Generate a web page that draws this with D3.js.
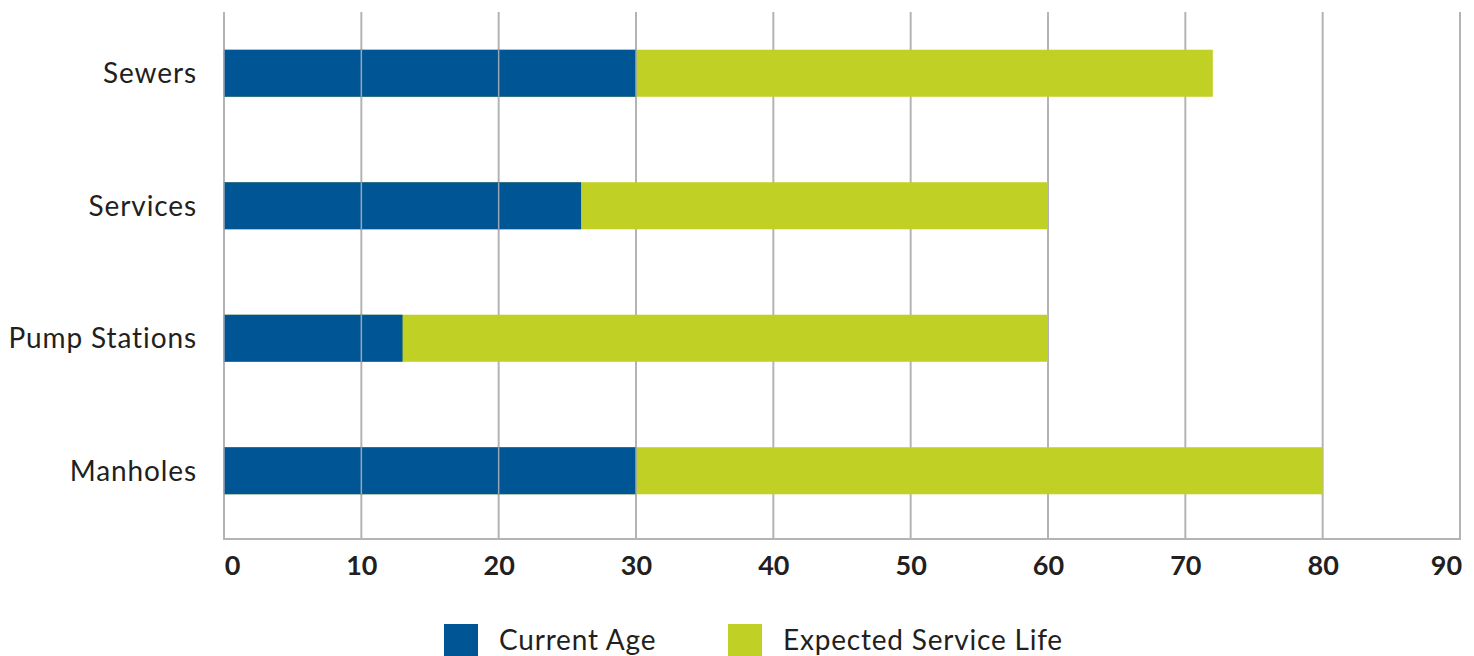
<!DOCTYPE html>
<html><head><meta charset="utf-8">
<script src="https://cdn.jsdelivr.net/npm/d3@7"></script>
<style>body{margin:0;background:#fff}svg{display:block}</style>
</head><body><svg id="c" width="1474" height="656"></svg>
<script>
const categories = ["Sewers", "Services", "Pump Stations", "Manholes"];
const currentAge = [30, 26, 13, 30];
const expectedLife = [72, 60, 60, 80];
const xTicks = [0, 10, 20, 30, 40, 50, 60, 70, 80, 90];
const seriesNames = ["Current Age", "Expected Service Life"];
const colors = ["#005594", "#c1d024"];

const svg = d3.select("#c");
const x = d3.scaleLinear().domain([0, 90]).range([224, 1460]);
const y = d3.scaleBand().domain(categories).range([7, 537]).paddingInner(0.645).paddingOuter(0.3225);
const plotTop = 12, plotBase = 539;
const font = "Lato, 'Open Sans', sans-serif";
const txt = "#231f20";

// gridlines
svg.append("g").selectAll("line").data(xTicks).join("line")
  .attr("x1", d => x(d)).attr("x2", d => x(d)).attr("y1", plotTop).attr("y2", plotBase)
  .attr("stroke", "#b4b4b6").attr("stroke-width", 2);
// baseline
svg.append("line").attr("x1", x(0) - 1).attr("x2", x(90) + 1).attr("y1", plotBase).attr("y2", plotBase)
  .attr("stroke", "#b4b4b6").attr("stroke-width", 2);

const rows = categories.map((c, i) => ({c, age: currentAge[i], life: expectedLife[i]}));
// expected service life (full)
svg.append("g").selectAll("rect").data(rows).join("rect")
  .attr("x", x(0)).attr("y", d => y(d.c)).attr("height", y.bandwidth())
  .attr("width", d => x(d.life) - x(0)).attr("fill", colors[1]);
// current age
svg.append("g").selectAll("rect").data(rows).join("rect")
  .attr("x", x(0)).attr("y", d => y(d.c)).attr("height", y.bandwidth())
  .attr("width", d => x(d.age) - x(0)).attr("fill", colors[0]);
// gridlines visible over blue segments
rows.forEach(r => {
  svg.append("g").selectAll("line").data(xTicks.filter(t => t <= r.age)).join("line")
    .attr("x1", d => x(d)).attr("x2", d => x(d)).attr("y1", y(r.c)).attr("y2", y(r.c) + y.bandwidth())
    .attr("stroke", "#9aa6b4").attr("stroke-width", 1.5);
});

// x tick labels
const xAxis = d3.axisBottom(x).tickValues(xTicks).tickSize(0).tickPadding(0);
const gx = svg.append("g").attr("transform", `translate(0,${plotBase})`).call(xAxis);
gx.select(".domain").remove();
gx.selectAll("text").attr("y", 36).attr("dy", null).attr("font-family", font).attr("font-weight", 700)
  .attr("font-size", 27).attr("fill", txt)
  .attr("x", d => d === 0 ? 8 : d === 90 ? -14 : 0);

// y labels
const yAxis = d3.axisLeft(y).tickSize(0).tickPadding(0);
const gy = svg.append("g").attr("transform", `translate(197,0)`).call(yAxis);
gy.select(".domain").remove();
gy.selectAll("text").attr("font-family", font).attr("font-size", 28).attr("letter-spacing", 0.9)
  .attr("fill", txt).attr("dy", "0.35em");

// legend
const lx = [444, 728];
seriesNames.forEach((n, i) => {
  svg.append("rect").attr("x", lx[i]).attr("y", 624).attr("width", 34).attr("height", 34).attr("fill", colors[i]);
  svg.append("text").attr("x", lx[i] + 55).attr("y", 650).attr("font-family", font).attr("font-size", 28)
    .attr("letter-spacing", 0.8).attr("fill", txt).text(n);
});
</script></body></html>
